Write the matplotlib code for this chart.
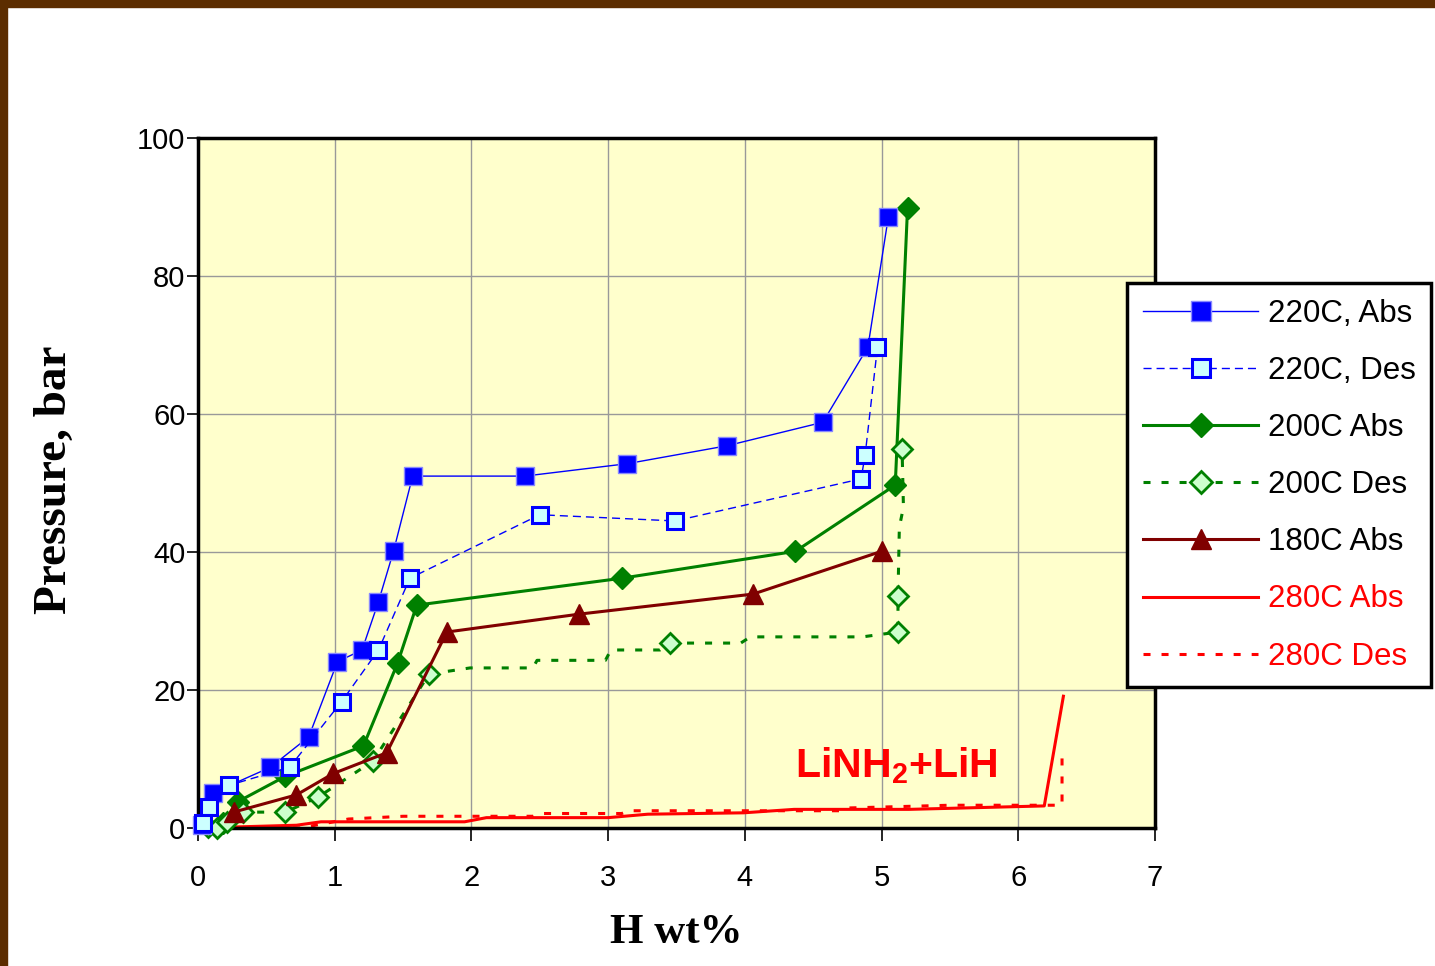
import numpy as np
import matplotlib.pyplot as plt
from matplotlib.patches import Rectangle
from matplotlib.lines import Line2D

plt.rcParams['font.family'] = ['Liberation Sans', 'DejaVu Sans']
plt.rcParams['mathtext.fontset'] = 'custom'
plt.rcParams['mathtext.rm'] = 'Liberation Sans'
plt.rcParams['mathtext.bf'] = 'Liberation Sans:bold'

# --- data (H wt%, pressure in bar) ---
abs220_x = [0.03, 0.11, 0.53, 0.81, 1.02, 1.20, 1.32, 1.43, 1.57, 2.39, 3.14, 3.87, 4.57, 4.90, 5.05]
abs220_y = [0.5, 5.1, 8.8, 13.2, 24.1, 25.8, 32.8, 40.1, 51.0, 51.0, 52.8, 55.4, 58.8, 69.7, 88.6]

des220_x = [4.97, 4.88, 4.85, 3.49, 2.50, 1.55, 1.32, 1.05, 0.67, 0.23, 0.08, 0.04]
des220_y = [69.7, 54.1, 50.6, 44.5, 45.4, 36.2, 25.8, 18.3, 8.8, 6.2, 3.0, 0.7]

abs200_x = [0.18, 0.29, 0.64, 1.21, 1.46, 1.60, 3.10, 4.37, 5.10, 5.19]
abs200_y = [0.7, 3.8, 7.5, 11.9, 23.9, 32.3, 36.2, 40.1, 49.7, 89.9]

des200_x = [0.07, 0.14, 0.21, 0.33, 0.64, 0.88, 1.28, 1.69, 1.99, 2.45, 2.48, 2.98, 3.02,
            3.38, 3.45, 3.97, 4.04, 4.86, 5.12, 5.12, 5.13, 5.16, 5.15]
des200_y = [0.1, 0.0, 0.9, 2.3, 2.3, 4.5, 9.7, 22.3, 23.2, 23.2, 24.3, 24.3, 25.8,
            25.8, 26.8, 26.8, 27.7, 27.7, 28.4, 33.6, 43.6, 46.5, 54.9]
des200_marked = [0, 1, 2, 3, 4, 5, 6, 7, 14, 18, 19, 22]

abs180_x = [0.26, 0.72, 0.99, 1.38, 1.82, 2.79, 4.06, 5.00]
abs180_y = [2.3, 4.8, 7.9, 10.9, 28.4, 31.0, 33.9, 40.1]

abs280_x = [0.0, 0.72, 0.9, 1.95, 2.11, 3.0, 3.29, 3.99, 4.36, 5.2, 6.19, 6.33]
abs280_y = [0.0, 0.4, 0.9, 0.9, 1.5, 1.5, 2.0, 2.2, 2.7, 2.7, 3.2, 19.1]

des280_x = [0.3, 0.75, 1.1, 1.5, 2.45, 2.5, 3.1, 3.15, 4.7, 4.75, 5.5, 6.32, 6.32]
des280_y = [0.0, 0.0, 1.3, 1.7, 1.7, 2.1, 2.1, 2.5, 2.5, 2.9, 3.3, 3.3, 10.1]

fig = plt.figure(figsize=(14.35, 9.66), dpi=100, facecolor='white')
# brown slide frame on top and left
fig.patches.append(Rectangle((0, 1 - 7 / 966), 1, 7 / 966, transform=fig.transFigure,
                             color='#5C2D00', zorder=0))
fig.patches.append(Rectangle((0, 0), 7 / 1435, 1, transform=fig.transFigure,
                             color='#5C2D00', zorder=0))

ax = fig.add_axes([198 / 1435, 138 / 966, 957 / 1435, 690 / 966])
ax.set_facecolor('#FFFFCC')

green = '#008000'
ax.plot(abs280_x, abs280_y, color='#FF0000', lw=2.2, zorder=2)
ax.plot(des280_x, des280_y, color='#FF0000', lw=2.2, ls=(0, (2.3, 3.6)), zorder=2)
ax.plot(des200_x, des200_y, color=green, lw=2.2, ls=(0, (2.3, 3.6)), marker='D',
        ms=10, mfc='#CCFFCC', mec=green, mew=2, markevery=des200_marked, zorder=4,
        clip_on=False)
ax.plot(abs200_x, abs200_y, color=green, lw=2.2, marker='D', ms=11, mfc=green,
        mec=green, zorder=3, clip_on=False)
ax.plot(abs220_x, abs220_y, color='#0000FF', lw=1, marker='s', ms=13, mfc='#0000FF',
        mec='#8888FF', mew=1, zorder=5, clip_on=False)
ax.plot(des220_x, des220_y, color='#0000FF', lw=1, ls=(0, (5.8, 3.6)), marker='s',
        ms=12, mfc='#CCFFFF', mec='#0000FF', mew=2.2, zorder=6, clip_on=False)
ax.plot(abs180_x, abs180_y, color='#800000', lw=2.2, marker='^', ms=14, mfc='#800000',
        mec='#800000', zorder=7, clip_on=False)

ax.set_xlim(0, 7)
ax.set_ylim(0, 100)
ax.set_xticks(range(0, 8))
ax.set_yticks(range(0, 101, 20))
ax.grid(True, color='#999999', lw=1)
ax.set_axisbelow(True)
for s in ax.spines.values():
    s.set_linewidth(2.5)
    s.set_color('black')
ax.tick_params(axis='x', direction='out', length=9, width=1.2, pad=17, labelsize=21)
ax.tick_params(axis='y', direction='out', length=8, width=1.2, pad=1, labelsize=21)

ax.set_xlabel('H wt%', family='Liberation Serif', fontweight='bold', fontsize=31)
ax.set_ylabel('Pressure, bar', family='Liberation Serif', fontweight='bold', fontsize=34)
ax.xaxis.set_label_coords(0.5, -0.125)
ax.yaxis.set_label_coords(-0.128, 0.504)

ax.text(4.37, 9.0, r'LiNH$_\mathbf{2}$+LiH', color='#FF0000', fontsize=29.5,
        fontweight='bold', ha='left', va='center')

handles = [
    Line2D([], [], color='#0000FF', lw=1, marker='s', ms=14, mfc='#0000FF', mec='#8888FF'),
    Line2D([], [], color='#0000FF', lw=1, ls=(0, (5.8, 3.6)), marker='s', ms=13,
           mfc='#CCFFFF', mec='#0000FF', mew=2.2),
    Line2D([], [], color=green, lw=2.2, marker='D', ms=12, mfc=green, mec=green),
    Line2D([], [], color=green, lw=2.2, ls=(0, (2.3, 3.6)), marker='D', ms=11,
           mfc='#CCFFCC', mec=green, mew=2),
    Line2D([], [], color='#800000', lw=2.2, marker='^', ms=15, mfc='#800000', mec='#800000'),
    Line2D([], [], color='#FF0000', lw=2.2),
    Line2D([], [], color='#FF0000', lw=2.2, ls=(0, (2.3, 3.6))),
]
labels = ['220C, Abs', '220C, Des', '200C Abs', '200C Des', '180C Abs', '280C Abs', '280C Des']
leg = ax.legend(handles, labels, loc='upper left', bbox_to_anchor=(0.971, 0.79),
                borderaxespad=0, fontsize=22.5, frameon=True, fancybox=False,
                edgecolor='black', framealpha=1, handlelength=3.7, handletextpad=0.3,
                labelspacing=0.87, borderpad=0.5)
leg.get_frame().set_linewidth(2.5)
for t in leg.get_texts()[5:]:
    t.set_color('#FF0000')

fig.savefig('out.png', dpi=100, facecolor='white')
